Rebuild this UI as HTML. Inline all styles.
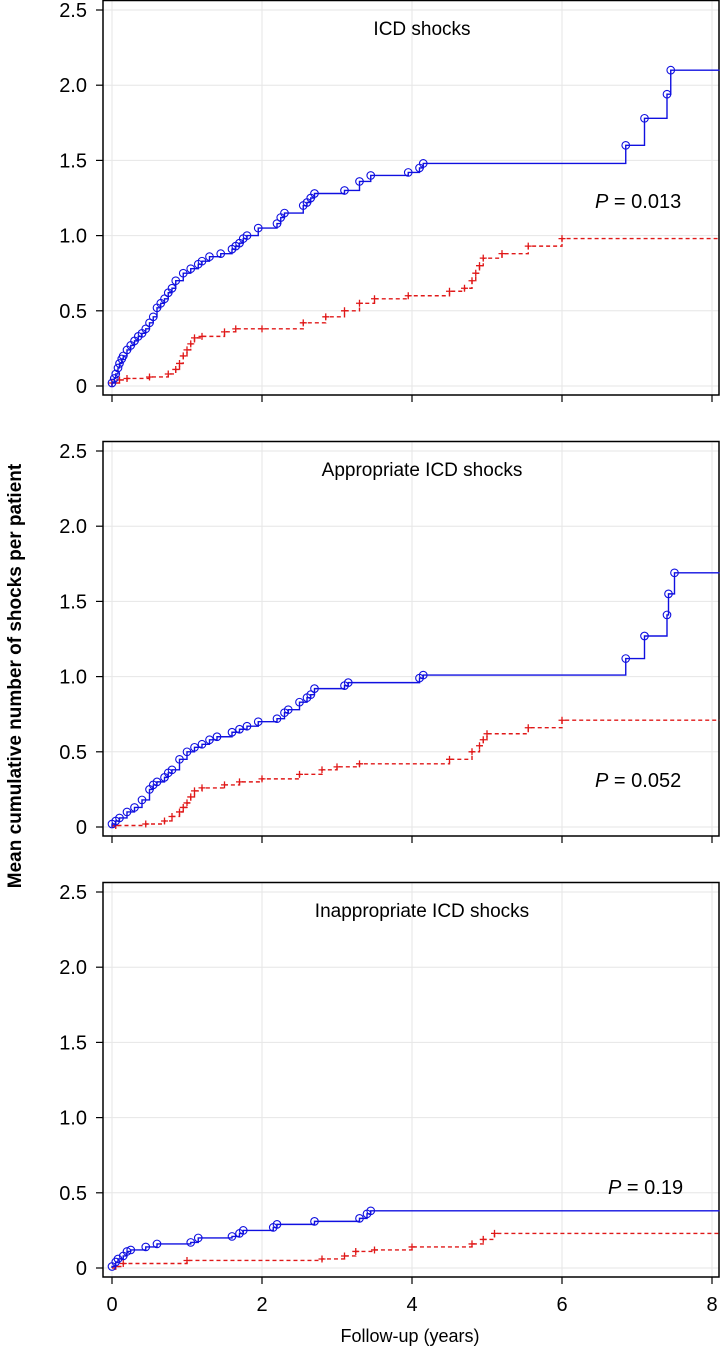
<!DOCTYPE html>
<html><head><meta charset="utf-8">
<style>
html,body{margin:0;padding:0;background:#fff;}
svg{display:block;font-family:"Liberation Sans",sans-serif;}
</style></head>
<body>
<svg id="chart" width="720" height="1353" viewBox="0 0 720 1353" xmlns="http://www.w3.org/2000/svg">
<text x="0" y="0" transform="translate(21,676) rotate(-90)" text-anchor="middle" font-size="19" font-weight="bold" fill="#000">Mean cumulative number of shocks per patient</text>
<text x="410" y="1342" text-anchor="middle" font-size="18" fill="#000">Follow-up (years)</text>
</svg>
<script>
const xTicks=[0,2,4,6,8];
const yTicks=[0,0.5,1.0,1.5,2.0,2.5];
const yTickLabels=["0","0.5","1.0","1.5","2.0","2.5"];
const panelTitles=["ICD shocks","Appropriate ICD shocks","Inappropriate ICD shocks"];
const pLabels=["0.013","0.052","0.19"];
const p1BlueT=[0,0.03,0.05,0.08,0.1,0.13,0.15,0.2,0.25,0.3,0.35,0.4,0.45,0.5,0.55,0.6,0.65,0.7,0.75,0.8,0.85,0.95,1.05,1.15,1.2,1.3,1.45,1.6,1.65,1.7,1.75,1.8,1.95,2.2,2.25,2.3,2.55,2.6,2.65,2.7,3.1,3.3,3.45,3.95,4.1,4.15,6.85,7.1,7.4,7.45];
const p1BlueY=[0.02,0.05,0.08,0.12,0.15,0.18,0.2,0.24,0.27,0.3,0.33,0.35,0.38,0.42,0.46,0.52,0.55,0.58,0.62,0.65,0.7,0.75,0.78,0.81,0.83,0.86,0.88,0.91,0.93,0.95,0.98,1.0,1.05,1.08,1.12,1.15,1.2,1.22,1.25,1.28,1.3,1.36,1.4,1.42,1.45,1.48,1.6,1.78,1.94,2.1];
const p1RedT=[0,0.1,0.2,0.5,0.75,0.85,0.9,0.95,1.0,1.05,1.1,1.2,1.5,1.65,2.0,2.55,2.85,3.1,3.3,3.5,3.95,4.5,4.7,4.8,4.85,4.9,4.95,5.2,5.55,6.0];
const p1RedY=[0.02,0.04,0.05,0.06,0.08,0.11,0.15,0.2,0.24,0.28,0.32,0.33,0.36,0.38,0.38,0.42,0.46,0.5,0.55,0.58,0.6,0.63,0.65,0.7,0.75,0.8,0.85,0.88,0.93,0.98];
const p2BlueT=[0,0.05,0.1,0.2,0.3,0.4,0.5,0.55,0.6,0.7,0.75,0.8,0.9,1.0,1.1,1.2,1.3,1.4,1.6,1.7,1.8,1.95,2.2,2.3,2.35,2.5,2.6,2.65,2.7,3.1,3.15,4.1,4.15,6.85,7.1,7.4,7.42,7.5];
const p2BlueY=[0.02,0.04,0.06,0.1,0.13,0.18,0.25,0.28,0.3,0.33,0.36,0.38,0.45,0.5,0.53,0.55,0.58,0.6,0.63,0.65,0.67,0.7,0.72,0.76,0.78,0.83,0.86,0.88,0.92,0.94,0.96,0.99,1.01,1.12,1.27,1.41,1.55,1.69];
const p2RedT=[0.05,0.45,0.7,0.8,0.9,0.95,1.0,1.05,1.1,1.2,1.5,1.7,2.0,2.5,2.8,3.0,3.3,4.5,4.8,4.9,4.95,5.0,5.55,6.0];
const p2RedY=[0.01,0.02,0.04,0.07,0.1,0.13,0.16,0.2,0.24,0.26,0.28,0.3,0.32,0.35,0.38,0.4,0.42,0.45,0.5,0.54,0.58,0.62,0.66,0.71];
const p3BlueT=[0,0.05,0.08,0.15,0.2,0.25,0.45,0.6,1.05,1.15,1.6,1.7,1.75,2.15,2.2,2.7,3.3,3.4,3.45];
const p3BlueY=[0.01,0.04,0.06,0.08,0.11,0.12,0.14,0.16,0.17,0.2,0.21,0.23,0.25,0.27,0.29,0.31,0.33,0.36,0.38];
const p3RedT=[0.05,0.15,1.0,2.8,3.1,3.25,3.5,4.0,4.8,4.95,5.1];
const p3RedY=[0.01,0.03,0.05,0.06,0.08,0.11,0.12,0.14,0.16,0.19,0.23];
const blueT=[p1BlueT,p2BlueT,p3BlueT], blueY=[p1BlueY,p2BlueY,p3BlueY];
const redT=[p1RedT,p2RedT,p3RedT], redY=[p1RedY,p2RedY,p3RedY];

const NS="http://www.w3.org/2000/svg";
const svg=document.getElementById('chart');
const L=103,R=719,X0=112,PXY=75,PY=150.4,TMAX=8.1;
function mk(tag,attrs,parent){const e=document.createElementNS(NS,tag);for(const k in attrs)e.setAttribute(k,attrs[k]);(parent||svg).appendChild(e);return e;}
const pyOff=[0,441,882];
const pRow=[201,780,1187];
const pX=[595,595,608];
for(let p=0;p<3;p++){
  const off=pyOff[p];
  const x=t=>X0+t*PXY;
  const y=v=>off+386-v*PY;
  const g=mk('g',{});
  
  
  xTicks.forEach(t=>{const l=mk('line',{x1:x(t),x2:x(t),y1:off,y2:off+395,stroke:'#e6e6e6','stroke-width':1},g);
    });
  yTicks.forEach(v=>{const l=mk('line',{x1:L,x2:R,y1:y(v),y2:y(v),stroke:'#e6e6e6','stroke-width':1},g);
    });
  const fr=mk('rect',{x:L,y:off+0.5,width:R-L,height:394.5,fill:'none',stroke:'#000','stroke-width':1.5},g);
  
  yTicks.forEach((v,i)=>{
    const tk=mk('line',{x1:L-7,x2:L,y1:y(v),y2:y(v),stroke:'#000','stroke-width':1.2},g);
    
    const tx=mk('text',{x:L-16,y:y(v)+7,'text-anchor':'end','font-size':20,fill:'#000'},g);
    tx.textContent=yTickLabels[i];
    
  });
  xTicks.forEach(t=>{
    const tk=mk('line',{x1:x(t),x2:x(t),y1:off+395,y2:off+402,stroke:'#000','stroke-width':1.2},g);
    
    if(p===2){const tx=mk('text',{x:x(t),y:1311,'text-anchor':'middle','font-size':20,fill:'#000'},g);
      tx.textContent=String(t);
      }
  });
  const tt=mk('text',{x:422,y:off+35,'text-anchor':'middle','font-size':19,fill:'#000'},g);
  tt.textContent=panelTitles[p];
  
  const pt=mk('text',{x:pX[p],y:pRow[p]+7,'font-size':20,fill:'#000'},g);
  pt.innerHTML='<tspan font-style="italic">P</tspan> = '+pLabels[p];
  
  function series(T,Y,color,dash,name){
    let d='M'+x(0)+','+y(0);
    for(let i=0;i<T.length;i++){d+=' H'+x(T[i])+' V'+y(Y[i]);}
    d+=' H'+x(TMAX);
    const a={d:d,fill:'none',stroke:color,'stroke-width':1.4};
    if(dash)a['stroke-dasharray']='4,3';
    const path=mk('path',a,g);
    
    for(let i=0;i<T.length;i++){
      const cx=x(T[i]),cy=y(Y[i]);
      if(color==='#1010e0'){
        const c=mk('circle',{cx:cx,cy:cy,r:3.8,fill:'none',stroke:color,'stroke-width':1.1},g);
        
      }else{
        const m=mk('path',{d:'M'+(cx-3.5)+','+cy+' h7 M'+cx+','+(cy-3.5)+' v7',stroke:color,'stroke-width':1.3,fill:'none'},g);
        
      }
    }
  }
  series(redT[p],redY[p],'#e01818',true,'control-series');
  series(blueT[p],blueY[p],'#1010e0',false,'treatment-series');
}
</script>
</body></html>
